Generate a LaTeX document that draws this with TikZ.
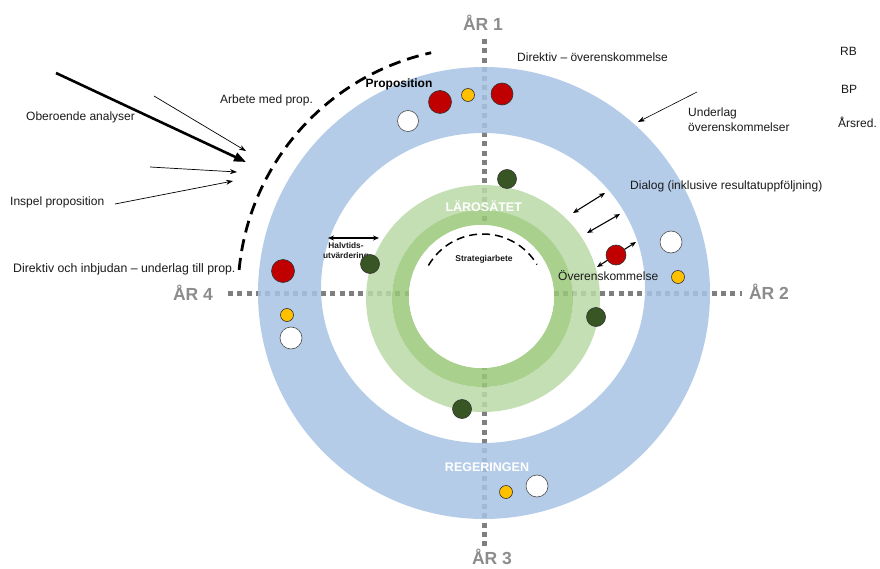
\documentclass[tikz,border=0pt]{standalone}
\usepackage{fontspec}
\setmainfont{Liberation Sans}
\usetikzlibrary{arrows.meta}
\definecolor{ringblue}{HTML}{A7C4E4}
\definecolor{ringgreen}{HTML}{BBDAA7}
\definecolor{ringgreendark}{HTML}{9AC97A}
\definecolor{dotgray}{HTML}{7F7F7F}
\definecolor{argray}{HTML}{8C8C8C}
\definecolor{txt}{HTML}{1A1A1A}
\definecolor{dotred}{HTML}{C00000}
\definecolor{dotyellow}{HTML}{FFC000}
\definecolor{dotgreen}{HTML}{375623}
\tikzset{
  lbl/.style={font=\fontsize{12}{15}\selectfont, inner sep=0, anchor=west, text=txt, align=left},
  yearlbl/.style={font=\fontsize{17.5}{20}\selectfont\bfseries, inner sep=0, text=argray},
  ringlbl/.style={font=\fontsize{12.5}{15}\selectfont\bfseries, inner sep=0, text=white},
  smallbold/.style={font=\fontsize{8.3}{10.5}\selectfont\bfseries, inner sep=0, text=txt, align=center},
  dotline/.style={line width=5pt, dotgray, dash pattern=on 5pt off 4.3pt},
  redc/.style={circle, fill=dotred, draw=black!80, line width=0.6pt, inner sep=0, minimum size=#1},
  yelc/.style={circle, fill=dotyellow, draw=black!80, line width=0.6pt, inner sep=0, minimum size=#1},
  whic/.style={circle, fill=white, draw=black!70, line width=0.6pt, inner sep=0, minimum size=#1},
  grnc/.style={circle, fill=dotgreen, draw=black!80, line width=0.6pt, inner sep=0, minimum size=#1},
  thinarrow/.style={-{Stealth[length=7pt,width=5pt]}, line width=0.7pt, black},
  dblarrow/.style={{Stealth[length=6pt,width=5pt]}-{Stealth[length=6pt,width=5pt]}, line width=1.1pt, black},
}
\begin{document}
\begin{tikzpicture}[x=1pt,y=-1pt]
\useasboundingbox (0,0) rectangle (880,569);
\fill[white] (0,0) rectangle (880,569);

% axes (dotted)
\coordinate (vt) at (484,39);
\coordinate (vb) at (484,546);
\coordinate (hl) at (228,293);
\coordinate (hr) at (742,293);
\draw[dotline] (vt) -- (vb);
\draw[dotline] (hl) -- (hr);

% rings
\fill[ringblue, fill opacity=0.85, even odd rule]
  (484,293) circle[radius=226]
  (483,288) ellipse[x radius=162, y radius=155];
\fill[ringgreen, fill opacity=0.85, even odd rule]
  (483,298.5) ellipse[x radius=117, y radius=113.5]
  (482.5,298.5) ellipse[x radius=90.5, y radius=88.5];
\fill[ringgreendark, fill opacity=0.85, even odd rule]
  (482.5,298.5) ellipse[x radius=90.5, y radius=88.5]
  (481.5,296.5) ellipse[x radius=72.5, y radius=71.5];
\fill[white] (481.5,296.5) ellipse[x radius=72.5, y radius=71.5];

% dashed arcs
\draw[line width=2.8pt, black, dash pattern=on 12pt off 7pt]
  (484,293) ++(-174.6:246) arc[start angle=-174.6, end angle=-102.4, radius=246];
\draw[line width=1.5pt, black, dash pattern=on 8pt off 5pt]
  (483,297) ++(-150:63) arc[start angle=-150, end angle=-31, radius=63];

% year labels
\node[yearlbl] (ar1) at (483,23) {ÅR 1};
\node[yearlbl] (ar2) at (769,292) {ÅR 2};
\node[yearlbl] (ar3) at (492,557) {ÅR 3};
\node[yearlbl] (ar4) at (193,293) {ÅR 4};

% ring labels
\node[ringlbl] (laro) at (483.7,206.5) {LÄROSÄTET};
\node[ringlbl] (reg) at (487,467) {REGERINGEN};
\node[font=\fontsize{8.5}{10}\selectfont\bfseries, inner sep=0, text=txt] (strat) at (484,259) {Strategiarbete};

% left texts and arrows
\node[lbl] (ober) at (26,117) {Oberoende analyser};
\node[lbl] (insp) at (10,202) {Inspel proposition};
\node[lbl] (arb) at (220,100) {Arbete med prop.};
\node[lbl, font=\fontsize{12.3}{15}\selectfont] (dirinb) at (13,269) {Direktiv och inbjudan – underlag till prop.};

\coordinate (ta0) at (56,73);
\coordinate (ta1) at (246,162);
\draw[-{Triangle[length=12pt,width=9pt]}, line width=2.6pt, black] (ta0) -- (ta1);
\coordinate (a1s) at (154,96);
\coordinate (a1e) at (246,151);
\draw[thinarrow] (a1s) -- (a1e);
\coordinate (a2s) at (150,167);
\coordinate (a2e) at (237,172);
\draw[thinarrow] (a2s) -- (a2e);
\coordinate (a3s) at (115,204);
\coordinate (a3e) at (233,181);
\draw[thinarrow] (a3s) -- (a3e);

% top texts
\node[font=\fontsize{12}{14}\selectfont\bfseries, inner sep=0, text=black] (prop) at (399,84) {Proposition};
\node[lbl] (dirov) at (517,57) {Direktiv – överenskommelse};
\node[lbl] (rb) at (840,51) {RB};
\node[lbl] (bp) at (841,89) {BP};
\node[lbl] (arsred) at (838,122) {Årsred.};
\node[lbl] (underlag) at (688,119.5) {Underlag\\överenskommelser};
\coordinate (ua0) at (697,92);
\coordinate (ua1) at (638,122);
\draw[thinarrow, line width=0.6pt] (ua0) -- (ua1);

% dialog
\node[lbl] (dialog) at (630,186) {Dialog (inklusive resultatuppföljning)};
\coordinate (d1a) at (573,213);
\coordinate (d1b) at (605,193);
\draw[dblarrow] (d1a) -- (d1b);
\coordinate (d2a) at (587,233);
\coordinate (d2b) at (620,214);
\draw[dblarrow] (d2a) -- (d2b);
\coordinate (d3a) at (597,267);
\coordinate (d3b) at (636,242);
\draw[dblarrow] (d3a) -- (d3b);
\node[lbl] (overens) at (558,276) {Överenskommelse};

% halvtid
\coordinate (h1a) at (328,238);
\coordinate (h1b) at (379,238);
\draw[dblarrow] (h1a) -- (h1b);
\node[smallbold] (halv) at (346,251.5) {Halvtids-\\utvärdering};

% circles
\node[whic=21] (w1) at (408,121) {};
\node[redc=23] (r1) at (440,102) {};
\node[yelc=13] (y1) at (468,95) {};
\node[redc=22] (r2) at (502,94) {};
\node[grnc=19] (g1) at (507,179) {};
\node[grnc=19] (g2) at (370,264) {};
\node[grnc=19] (g3) at (596,317) {};
\node[grnc=19] (g4) at (462,409) {};
\node[redc=20] (r3) at (616,255) {};
\node[whic=22] (w2) at (671,242) {};
\node[yelc=13] (y2) at (678,277) {};
\node[redc=23] (r4) at (283,271) {};
\node[yelc=13] (y3) at (287,315) {};
\node[whic=22] (w3) at (291,338) {};
\node[yelc=13] (y4) at (506,492) {};
\node[whic=22] (w4) at (537,486) {};
\end{tikzpicture}
\end{document}
